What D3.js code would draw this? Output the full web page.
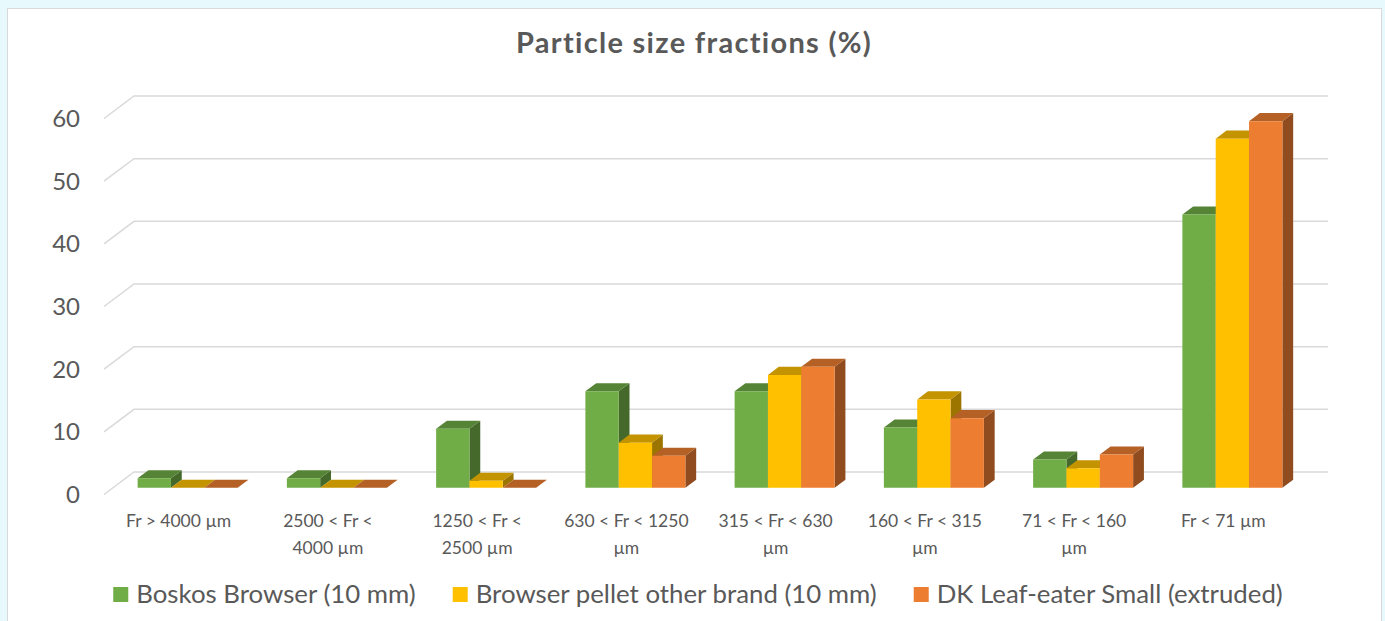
<!DOCTYPE html>
<html>
<head>
<meta charset="utf-8">
<script src="https://cdn.jsdelivr.net/npm/d3@7"></script>
<style>
  body { margin: 0; background: #e8f9fd; }
  text { font-family: Lato, "Open Sans", sans-serif; fill: #595959; }
</style>
</head>
<body>
<div id="chart"></div>
<script>
// data
var categories = ["Fr > 4000 µm", "2500 < Fr < 4000 µm", "1250 < Fr < 2500 µm", "630 < Fr < 1250 µm",
                  "315 < Fr < 630 µm", "160 < Fr < 315 µm", "71 < Fr < 160 µm", "Fr < 71 µm"];
// how excel wrapped the category labels
var categoryLines = [["Fr > 4000 µm"], ["2500 < Fr <", "4000 µm"], ["1250 < Fr <", "2500 µm"],
                     ["630 < Fr < 1250", "µm"], ["315 < Fr < 630", "µm"], ["160 < Fr < 315", "µm"],
                     ["71 < Fr < 160", "µm"], ["Fr < 71 µm"]];
var seriesNames = ["Boskos Browser (10 mm)", "Browser pellet other brand (10 mm)", "DK Leaf-eater Small (extruded)"];
var boskos  = [1.5, 1.5, 9.4, 15.4, 15.4, 9.6, 4.5, 43.6];
var browser = [0, 0, 1.1, 7.2, 18.0, 14.1, 3.1, 55.7];
var dkLeaf  = [0, 0, 0, 5.1, 19.3, 11.1, 5.3, 58.5];
var yTicks = [0, 10, 20, 30, 40, 50, 60];
var colors = ["#70ad47", "#ffc000", "#ed7d31"];

var series = [boskos, browser, dkLeaf];

var W = 1385, H = 621;
var svg = d3.select("#chart").append("svg")
    .attr("width", W)
    .attr("height", H);

// white chart panel
svg.append("rect")
    .attr("x", 7.5).attr("y", 8.5)
    .attr("width", 1374).attr("height", 640)
    .attr("fill", "#fff")
    .attr("stroke", "#d9d9d9");

// 3d box: floor front edge at y0, depth offset DX/DY to the back wall
var y0 = 494.5, DX = 30, DY = 22.5;
var dFront = 0.3, dBack = 0.66;

var x = d3.scaleBand().domain(categories).range([104, 1298]).paddingInner(0.33).paddingOuter(0.165);
var xs = d3.scaleBand().domain([0, 1, 2]).range([0, x.bandwidth()]);
var y = d3.scaleLinear().domain([0, 60]).range([0, 376]);

function proj(px, v, d) {
  return [px + d * DX, y0 - y(v) - d * DY];
}

// gridlines: side wall diagonal + back wall
var grid = svg.append("g");
var backLeft = x.range()[0];
var backRight = x.range()[1];
yTicks.forEach(function(t) {
  var a = proj(backLeft, t, 0), b = proj(backLeft, t, 1), c = proj(backRight, t, 1);
  grid.append("path")
      .attr("d", "M" + a + "L" + b + "L" + c)
      .attr("fill", "none")
      .attr("stroke", "#d9d9d9")
      .attr("stroke-width", 1.5);
  grid.append("text")
      .attr("x", a[0] - 24)
      .attr("y", a[1])
      .attr("dy", "0.35em")
      .attr("text-anchor", "end")
      .style("font-size", "24px")
      .text(t);
});

// bars, drawn left to right so the next bar hides the side face
var bars = svg.append("g");
categories.forEach(function(cat, i) {
  series.forEach(function(s, j) {
    var v = s[i];
    var x0 = x(cat) + xs(j), x1 = x0 + xs.bandwidth();
    var c = d3.color(colors[j]);
    var fl = proj(x0, 0, dFront), fr = proj(x1, 0, dFront),
        tl = proj(x0, v, dFront), tr = proj(x1, v, dFront),
        bl = proj(x0, v, dBack), br = proj(x1, v, dBack),
        br0 = proj(x1, 0, dBack);
    // side
    bars.append("path")
        .attr("d", "M" + fr + "L" + tr + "L" + br + "L" + br0 + "Z")
        .attr("fill", c.darker(1.4));
    // top
    bars.append("path")
        .attr("d", "M" + tl + "L" + tr + "L" + br + "L" + bl + "Z")
        .attr("fill", c.darker(0.75));
    // front
    if (v > 0) {
      bars.append("path")
          .attr("d", "M" + fl + "L" + tl + "L" + tr + "L" + fr + "Z")
          .attr("fill", colors[j]);
    }
  });
});

// category labels
var labels = svg.append("g");
categories.forEach(function(cat, i) {
  var cx = x(cat) + x.bandwidth() / 2;
  var t = labels.append("text")
      .attr("text-anchor", "middle")
      .style("font-size", "17.5px");
  categoryLines[i].forEach(function(line, k) {
    t.append("tspan")
        .attr("x", cx)
        .attr("y", 527 + k * 26.5)
        .text(line);
  });
});

// title
svg.append("text")
    .attr("x", 694)
    .attr("y", 53)
    .attr("text-anchor", "middle")
    .style("font-size", "29px")
    .style("font-weight", "bold")
    .style("letter-spacing", "1.3px")
    .text("Particle size fractions (%)");

// legend
var legend = svg.append("g");
var items = legend.selectAll("g").data(seriesNames).enter().append("g");
items.append("rect")
    .attr("width", 15).attr("height", 15)
    .attr("y", 587)
    .attr("fill", function(d, i) { return colors[i]; });
items.append("text")
    .attr("x", 23)
    .attr("y", 603)
    .style("font-size", "25.8px")
    .text(function(d) { return d; });
var widths = [];
items.selectAll("text").each(function() { widths.push(this.getComputedTextLength() + 23); });
var gap = 37;
var total = d3.sum(widths) + gap * (widths.length - 1);
var lx = 698 - total / 2;
items.attr("transform", function(d, i) {
  var pos = lx;
  lx += widths[i] + gap;
  return "translate(" + pos + ",0)";
});
</script>
</body>
</html>
